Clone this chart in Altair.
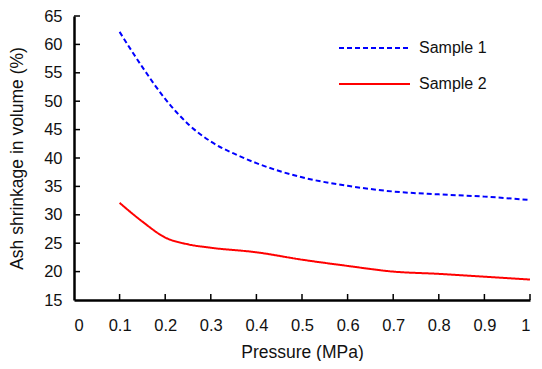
import altair as alt
import pandas as pd

pressure1 = [0.1, 0.15, 0.2, 0.25, 0.3, 0.35, 0.4, 0.5, 0.6, 0.7, 0.8, 0.9, 1.0]
sample1 = [62.2, 56.0, 50.4, 46.0, 42.9, 40.8, 39.1, 36.6, 35.1, 34.1, 33.6, 33.2, 32.6]
pressure2 = [0.1, 0.15, 0.2, 0.25, 0.3, 0.4, 0.5, 0.6, 0.7, 0.8, 0.9, 1.0]
sample2 = [32.1, 28.8, 26.0, 24.8, 24.2, 23.4, 22.1, 21.0, 20.0, 19.6, 19.1, 18.6]
series_names = ["Sample 1", "Sample 2"]
series_colors = ["#0000FF", "#FF0000"]
series_dashes = [[5, 3], [1, 0]]
x_ticks = [0, 0.1, 0.2, 0.3, 0.4, 0.5, 0.6, 0.7, 0.8, 0.9, 1.0]
y_ticks = [15, 20, 25, 30, 35, 40, 45, 50, 55, 60, 65]

FONT = "Liberation Sans"

df = pd.concat([
    pd.DataFrame({"p": pressure1, "v": sample1, "s": series_names[0]}),
    pd.DataFrame({"p": pressure2, "v": sample2, "s": series_names[1]}),
])

xscale = alt.Scale(domain=[0, 1], nice=False)
yscale = alt.Scale(domain=[15, 65], nice=False, zero=False)
x_axis = alt.Axis(values=x_ticks, format=".1~f", title="Pressure (MPa)",
                  tickSize=0, labelPadding=17, titlePadding=10, labelOverlap=False)
y_axis = alt.Axis(values=y_ticks, title="Ash shrinkage in volume (%)",
                  tickSize=0, labelPadding=12, titlePadding=17, labelOverlap=False)

lines = alt.Chart(df).mark_line(strokeWidth=2, interpolate="monotone").encode(
    x=alt.X("p:Q", scale=xscale, axis=x_axis),
    y=alt.Y("v:Q", scale=yscale, axis=y_axis),
    color=alt.Color("s:N", scale=alt.Scale(domain=series_names, range=series_colors), legend=None),
    strokeDash=alt.StrokeDash("s:N", scale=alt.Scale(domain=series_names, range=series_dashes), legend=None),
)

xt = pd.DataFrame({"t": x_ticks[1:]})
yt = pd.DataFrame({"t": y_ticks[1:]})
xticks = alt.Chart(xt).mark_rule(color="black", strokeWidth=1.5, y2Offset=-6).encode(
    x=alt.X("t:Q", scale=xscale, axis=x_axis), y=alt.value("height"), y2=alt.value("height"))
yticks = alt.Chart(yt).mark_rule(color="black", strokeWidth=1.5).encode(
    y=alt.Y("t:Q", scale=yscale, axis=y_axis), x=alt.value(0), x2=alt.value(6))

legend_layers = []
for i, name in enumerate(series_names):
    ldf = pd.DataFrame({"s": [name]})
    ly = 32 + 36 * i
    legend_layers.append(
        alt.Chart(ldf).mark_rule(strokeWidth=2, color=series_colors[i],
                                 strokeDash=series_dashes[i]).encode(
            x=alt.value(265), x2=alt.value(336), y=alt.value(ly))
    )
    legend_layers.append(
        alt.Chart(ldf).mark_text(align="left", baseline="middle", font=FONT,
                                 fontSize=16, color="#111").encode(
            x=alt.value(345), y=alt.value(ly), text="s:N")
    )

chart = alt.layer(lines, xticks, yticks, *legend_layers).properties(
    width=526, height=353, padding=0,
    autosize=alt.AutoSizeParams(type="fit", contains="padding"),
).configure_axis(
    grid=False, domainColor="black", domainWidth=2.5,
    labelFont=FONT, titleFont=FONT, labelFontSize=16.5, titleFontSize=17.5,
    labelColor="#111", titleColor="#111", titleFontWeight="normal",
).configure_view(stroke=None)

chart.save("out.html", embed_options={"renderer": "svg", "actions": False})
